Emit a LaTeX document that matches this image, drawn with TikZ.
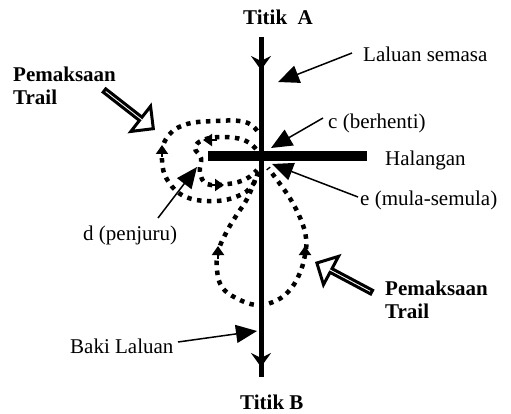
\documentclass[tikz,border=0pt]{standalone}
\usepackage{fontspec}
\setmainfont{Liberation Serif}
\usetikzlibrary{arrows.meta,shapes.arrows}
\begin{document}
\begin{tikzpicture}[x=1pt,y=-1pt,
  lbl/.style={font=\fontsize{21}{23}\selectfont, inner sep=0pt, anchor=base west},
  blbl/.style={lbl, font=\fontsize{21}{23}\selectfont\bfseries},
  pointer/.style={line width=1.5pt, -{Triangle[length=21pt,width=18pt]}},
  mainline/.style={line width=5pt},
  mainarrow/.style={line width=5pt, -{Stealth[length=14pt,width=20pt,inset=5pt]}},
  dotpath/.style={line width=4.5pt, dash pattern=on 4.5pt off 5.5pt},
  dothead/.style={line width=2pt, -{Triangle[length=9pt,width=12pt]}},
  push/.style={single arrow, draw, line width=3pt, fill=white, minimum width=32pt,
    minimum height=62pt, single arrow head extend=10pt, inner sep=0pt, anchor=tip}]
\useasboundingbox (0,0) rectangle (511,414);

% main route
\coordinate (top) at (261,37);
\coordinate (bot) at (261,377);
\coordinate (a1s) at (261,52);
\coordinate (a1e) at (261,70);
\coordinate (a2s) at (261,350);
\coordinate (a2e) at (261,367);
\draw[mainline] (top) -- (bot);
\draw[mainarrow] (a1s) -- (a1e);
\draw[mainarrow] (a2s) -- (a2e);

% obstacle
\coordinate (h1) at (208,156);
\coordinate (h2) at (367,156);
\draw[line width=10pt] (h1) -- (h2);

% dotted loops
\draw[dotpath] plot[smooth, tension=0.7] coordinates {(258,172) (252,186) (238,196) (215,201) (186,197) (168,181) (162,160) (166,139) (184,125) (215,121) (245,122) (258,132)};
\draw[dotpath] plot[smooth, tension=0.7] coordinates {(256,149) (244,140) (222,137) (203,140) (195,148) (201,158) (200,172) (207,184) (228,184) (246,179) (257,170)};
\draw[dotpath] plot[smooth, tension=0.7] coordinates {(255,180) (247,199) (236,216) (226,233) (218,252) (217,270) (222,287) (236,298) (256,305) (273,302) (288,292) (299,275) (305,255) (306,238) (301,220) (291,200) (280,184) (268,168)};

\coordinate (d1s) at (162,157); \coordinate (d1e) at (162,145);
\coordinate (d2s) at (217,140); \coordinate (d2e) at (203,140);
\coordinate (d3s) at (210,185); \coordinate (d3e) at (224,185);
\coordinate (d4s) at (218,259); \coordinate (d4e) at (218,246);
\coordinate (d5s) at (305,259); \coordinate (d5e) at (305,246);
\draw[dothead] (d1s) -- (d1e);
\draw[dothead] (d2s) -- (d2e);
\draw[dothead] (d3s) -- (d3e);
\draw[dothead] (d4s) -- (d4e);
\draw[dothead] (d5s) -- (d5e);

% labels
\node[blbl] (ta) at (243,25) {Titik~~A};
\node[blbl] (tb) at (240,409) {Titik B};
\node[lbl] (ls) at (363,62) {Laluan semasa};
\node[lbl] (cb) at (328,129) {c (berhenti)};
\node[lbl] (hl) at (385,166) {Halangan};
\node[lbl] (em) at (360,205) {e (mula-semula)};
\node[lbl] (dp) at (83,240) {d (penjuru)};
\node[lbl] (bl) at (70,353) {Baki Laluan};
\node[blbl] (pm1) at (13,82) {Pemaksaan};
\node[blbl] (tr1) at (13,105) {Trail};
\node[blbl] (pm2) at (385,295) {Pemaksaan};
\node[blbl] (tr2) at (385,318) {Trail};

% pointers
\coordinate (lsT) at (352,53);  \coordinate (lsH) at (278,82);
\coordinate (cbT) at (323,118); \coordinate (cbH) at (271,148);
\coordinate (emT) at (358,197); \coordinate (emH) at (272,164);
\coordinate (dpT) at (158,218); \coordinate (dpH) at (197,167);
\coordinate (blT) at (178,342); \coordinate (blH) at (257,331);
\draw[pointer] (lsT) -- (lsH);
\draw[pointer] (cbT) -- (cbH);
\draw[pointer] (emT) -- (emH);
\draw[pointer] (dpT) -- (dpH);
\draw[pointer] (blT) -- (blH);

% forcing arrows
\node[push, rotate=-38] (p1) at (155,130) {};
\node[push, rotate=152] (p2) at (315,262) {};
\end{tikzpicture}
\end{document}
